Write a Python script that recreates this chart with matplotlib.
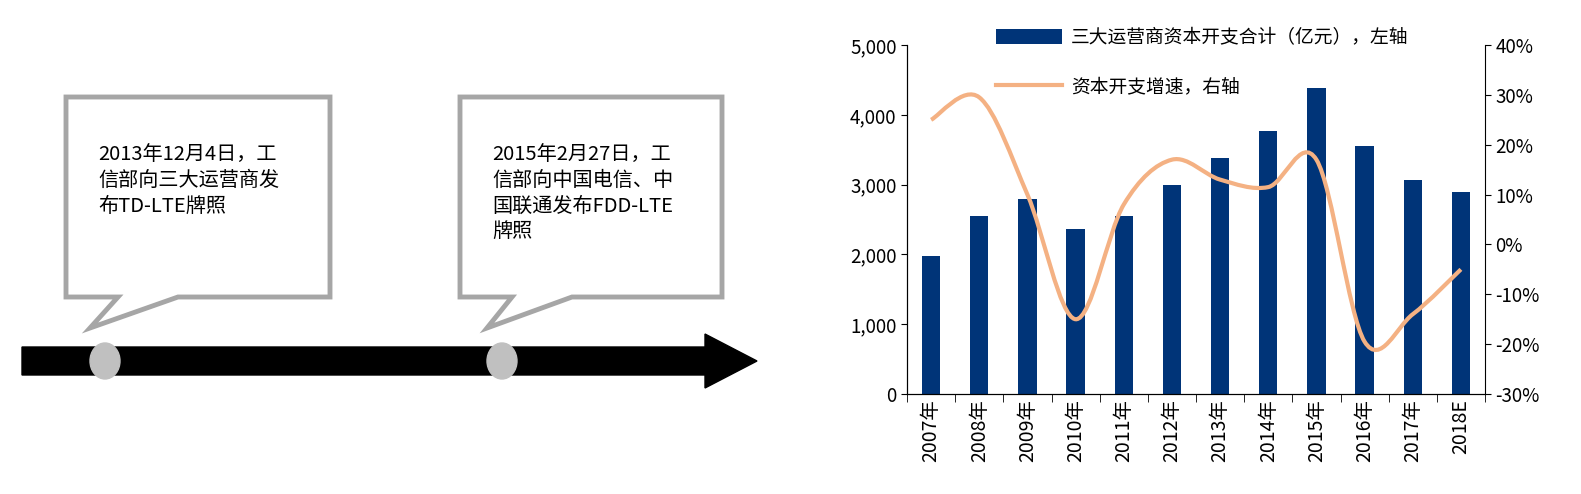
import matplotlib
matplotlib.use("Agg")
import matplotlib.pyplot as plt
from matplotlib.path import Path
from matplotlib.patches import PathPatch, Polygon, Ellipse
import numpy as np

plt.rcParams['font.family'] = ['Noto Sans CJK SC', 'DejaVu Sans']

years = ['2007年', '2008年', '2009年', '2010年', '2011年', '2012年', '2013年',
         '2014年', '2015年', '2016年', '2017年', '2018E']
capex = [1970, 2550, 2800, 2370, 2550, 3000, 3380, 3770, 4390, 3560, 3060, 2900]
growth = [25.0, 29.5, 10.0, -15.0, 8.0, 17.0, 13.0, 11.5, 17.0, -19.5, -14.0, -5.0]
bar_label = '三大运营商资本开支合计（亿元），左轴'
line_label = '资本开支增速，右轴'
note1 = '2013年12月4日，工\n信部向三大运营商发\n布TD-LTE牌照'
note2 = '2015年2月27日，工\n信部向中国电信、中\n国联通发布FDD-LTE\n牌照'

W, H = 1581, 494
fig = plt.figure(figsize=(W/100, H/100), dpi=100)

axd = fig.add_axes([0, 0, 1, 1])
axd.set_xlim(0, W); axd.set_ylim(H, 0); axd.axis('off')
axd.add_patch(Polygon([(22, 347), (705, 347), (705, 334), (757, 361), (705, 388),
                       (705, 375), (22, 375)], closed=True, color='black'))
for cx in (105, 502):
    axd.add_patch(Ellipse((cx, 361), 30, 36, color='#c0c0c0'))
def callout(x0, x1, y0, y1, t0, t1, tip, text):
    pts = [(x0, y0), (x1, y0), (x1, y1), (t1, y1), tip, (t0, y1), (x0, y1)]
    axd.add_patch(Polygon(pts, closed=True, facecolor='white', edgecolor='#a6a6a6', lw=3.5))
    axd.text(x0 + 32, y0 + 47, text, fontsize=14.5, va='top', linespacing=1.3,
             fontweight='medium')
callout(66, 330, 97, 297, 118, 178, (90, 328), note1)
callout(460, 722, 97, 297, 512, 572, (487, 328), note2)

ax = fig.add_axes([907/W, 1-394/H, (1485-907)/W, (394-45)/H])
x = np.arange(len(years))
ax.bar(x, capex, width=0.38, color='#003478', label=bar_label)
ax.set_ylim(0, 5000)
ax.set_xlim(-0.5, len(years) - 0.5)
ax.set_yticks(range(0, 5001, 1000))
ax.set_yticklabels([f'{v:,}' for v in range(0, 5001, 1000)], fontsize=13.5)
ax.set_xticks(x)
ax.set_xticklabels(years, rotation=90, fontsize=14)
ax.set_xticks(np.arange(-0.5, len(years), 1), minor=True)
ax.tick_params(axis='x', which='major', length=0)
ax.tick_params(axis='x', which='minor', length=6, direction='out')
ax.tick_params(axis='y', direction='out', length=4)
for s in ('top', 'right'):
    ax.spines[s].set_visible(False)

ax2 = ax.twinx()
ax2.set_ylim(-30, 40)
ax2.set_yticks(range(-30, 41, 10))
ax2.set_yticklabels([f'{v}%' for v in range(-30, 41, 10)], fontsize=13.5)
ax2.tick_params(axis='y', direction='out', length=4)
ax2.spines['top'].set_visible(False)
P = np.column_stack([x, growth]).astype(float)
verts = [tuple(P[0])]; codes = [Path.MOVETO]
for i in range(len(P) - 1):
    p0 = P[i-1] if i > 0 else P[i]
    p3 = P[i+2] if i + 2 < len(P) else P[i+1]
    c1 = P[i] + (P[i+1] - p0) / 6
    c2 = P[i+1] - (p3 - P[i]) / 6
    verts += [tuple(c1), tuple(c2), tuple(P[i+1])]
    codes += [Path.CURVE4] * 3
ax2.add_patch(PathPatch(Path(verts, codes), fill=False, edgecolor='#f4b183', lw=3))
ax2.plot([], [], color='#f4b183', lw=3, label=line_label)

ax.legend(loc='upper left', bbox_to_anchor=(0.125, 1.1), frameon=False, fontsize=13.5,
          handlelength=3.5, handleheight=0.8, handletextpad=0.5)
ax2.legend(loc='upper left', bbox_to_anchor=(0.125, 0.96), frameon=False, fontsize=13.5,
           handlelength=3.5, handletextpad=0.5)
fig.savefig('out.png', dpi=100)
